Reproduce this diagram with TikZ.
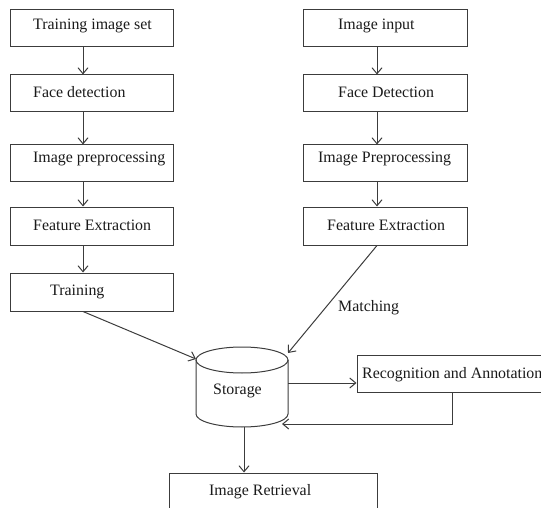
\documentclass[tikz,border=0pt]{standalone}
\usepackage{fontspec}
\setmainfont{Liberation Serif}
\usetikzlibrary{arrows.meta,calc}
\definecolor{linecol}{HTML}{3C3C3C}
\definecolor{txtcol}{HTML}{1A1A1A}
\tikzset{
  box/.style={draw=linecol, line width=1pt, rectangle, inner sep=0pt},
  lbl/.style={font=\fontsize{15.9}{19}\selectfont, anchor=west, inner sep=0pt, text=txtcol},
  arr/.style={draw=linecol, line width=1pt, -{Straight Barb[length=6pt,width=10pt]}},
  ln/.style={draw=linecol, line width=1pt}
}
\begin{document}
\begin{tikzpicture}[x=1pt,y=-1pt]
\useasboundingbox (0,0) rectangle (541,508);
\clip (0,0) rectangle (541,508);
% left column
\node[box, minimum width=163pt, minimum height=37pt] (l1) at (91.5,28.5) {};
\node[box, minimum width=163pt, minimum height=37pt] (l2) at (91.5,93.5) {};
\node[box, minimum width=163pt, minimum height=37pt] (l3) at (91.5,163.5) {};
\node[box, minimum width=163pt, minimum height=38pt] (l4) at (91.5,226) {};
\node[box, minimum width=163pt, minimum height=38pt] (l5) at (91.5,292) {};
% right column
\node[box, minimum width=164pt, minimum height=37pt] (r1) at (385,28.5) {};
\node[box, minimum width=164pt, minimum height=37pt] (r2) at (385,93.5) {};
\node[box, minimum width=164pt, minimum height=37pt] (r3) at (385,163.5) {};
\node[box, minimum width=164pt, minimum height=38pt] (r4) at (385,226) {};
% recognition, retrieval
\node[box, minimum width=203pt, minimum height=37pt] (rec) at (458.5,373.5) {};
\node[box, minimum width=208pt, minimum height=52pt] (ret) at (273,499) {};
% storage cylinder
\node[minimum width=92pt, minimum height=80pt, inner sep=0pt] (st) at (242,387) {};
\draw[ln] (242,360) ellipse [x radius=46, y radius=13];
\draw[ln] (196,360) -- (196,414) arc[start angle=180, end angle=360, x radius=46, y radius=-13] -- (288,360);
% labels
\node[lbl] (t1) at (33,26) {Training image set};
\node[lbl] (t2) at (33,92) {Face detection};
\node[lbl] (t3) at (33,159) {Image preprocessing};
\node[lbl] (t4) at (33,225) {Feature Extraction};
\node[lbl] (t5) at (50,292) {Training};
\node[lbl] (u1) at (338,26) {Image input};
\node[lbl] (u2) at (338,92) {Face Detection};
\node[lbl] (u3) at (318,159) {Image Preprocessing};
\node[lbl] (u4) at (327,225) {Feature Extraction};
\node[lbl] (mt) at (338,308) {Matching};
\node[lbl] (stl) at (213,391) {Storage};
\node[lbl] (recl) at (362,375) {Recognition and Annotation};
\node[lbl] (retl) at (209,492) {Image Retrieval};
% coordinates
\coordinate (stnw) at (196,359);
\coordinate (stne) at (288,353);
\coordinate (stout) at (288,383);
\coordinate (stin) at (282,424);
\coordinate (bend) at (452,424);
\coordinate (stbot) at (244,427);
% vertical arrows
\draw[arr] ([xshift=-8.5pt]l1.south) -- ([xshift=-8.5pt]l2.north);
\draw[arr] ([xshift=-8.5pt]l2.south) -- ([xshift=-8.5pt]l3.north);
\draw[arr] ([xshift=-8.5pt]l3.south) -- ([xshift=-8.5pt]l4.north);
\draw[arr] ([xshift=-8.5pt]l4.south) -- ([xshift=-8.5pt]l5.north);
\draw[arr] ([xshift=-8pt]r1.south) -- ([xshift=-8pt]r2.north);
\draw[arr] ([xshift=-8pt]r2.south) -- ([xshift=-8pt]r3.north);
\draw[arr] ([xshift=-8pt]r3.south) -- ([xshift=-8pt]r4.north);
% to storage
\draw[arr] ([xshift=-8.5pt]l5.south) -- (stnw);
\draw[arr] ([xshift=-8pt]r4.south) -- (stne);
\draw[arr] (stout) -- (rec.west |- stout);
\draw[arr] (rec.south -| bend) -- (bend) -- (stin);
\draw[arr] (stbot) -- (stbot |- ret.north);
\end{tikzpicture}
\end{document}
